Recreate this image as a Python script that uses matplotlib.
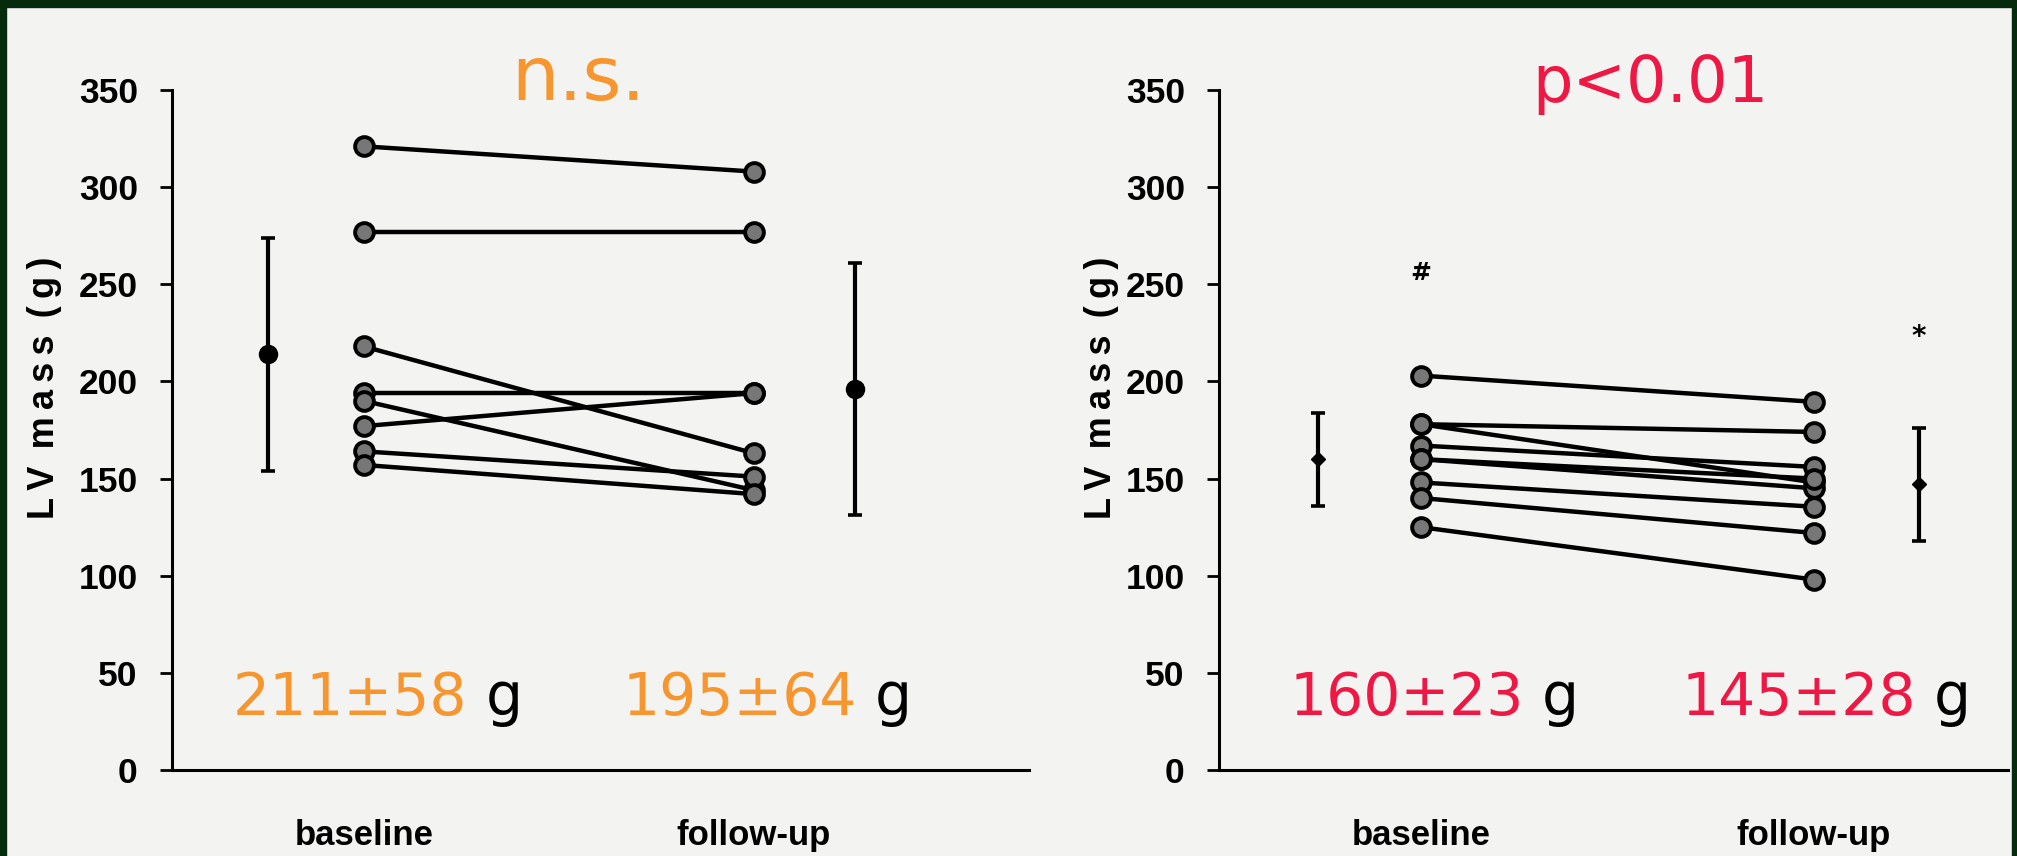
import matplotlib.pyplot as plt
from matplotlib.patches import Rectangle

# data (LV mass, g)
timepoints = ['baseline', 'follow-up']

ns_baseline = [321, 277, 218, 194, 190, 177, 164, 157]
ns_followup = [308, 277, 163, 194, 144, 194, 151, 142]
ns_mean = [214, 196]
ns_sd = [60, 65]
ns_text = ['211±58', '195±64']

p_baseline = [203, 178, 178, 167, 160, 160, 148, 140, 125]
p_followup = [189.5, 174, 148, 156, 145, 150, 135.5, 122, 98]
p_mean = [160, 147]
p_sd = [24, 29]
p_text = ['160±23', '145±28']

ORANGE = '#f7962e'
RED = '#ef1744'
BG = '#f3f3f1'
FRAME = '#052a0c'

W, H = 2017, 856
fig = plt.figure(figsize=(W / 100, H / 100), dpi=100, facecolor=BG)

# dark frame around the scanned image
for x, y, w, h in [(0, H - 7, W, 7), (0, 0, 6, H), (W - 5, 0, 5, H)]:
    fig.patches.append(Rectangle((x / W, y / H), w / W, h / H, transform=fig.transFigure,
                                 color=FRAME, zorder=0))


def panel(rect, xlim, mean_x, base, follow, mean, sd, texts, color, mean_ms, mean_marker):
    ax = fig.add_axes([rect[0] / W, 1 - rect[3] / H, (rect[2] - rect[0]) / W, (rect[3] - rect[1]) / H])
    ax.set_facecolor('none')
    for b, f in zip(base, follow):
        ax.plot([1, 2], [b, f], color='black', lw=3.2, marker='o', ms=13.5,
                mfc='#777777', mec='black', mew=2.8, clip_on=False, zorder=3)
    ax.errorbar(mean_x, mean, yerr=sd, fmt=mean_marker, color='black', ms=mean_ms,
                elinewidth=3.0, capsize=5, capthick=2.6, clip_on=False, zorder=3)
    ax.set_xlim(*xlim)
    ax.set_ylim(0, 350)
    ax.set_yticks(range(0, 351, 50))
    ax.set_xticks([1, 2], timepoints)
    for s in ['top', 'right']:
        ax.spines[s].set_visible(False)
    for s in ['left', 'bottom']:
        ax.spines[s].set_linewidth(2.2)
    ax.tick_params(axis='y', length=8.6, width=2.0, pad=16)
    ax.tick_params(axis='x', length=0, pad=35)
    for lab in ax.get_yticklabels():
        lab.set_fontfamily(['Liberation Sans'])
        lab.set_fontweight('bold')
        lab.set_fontsize(25.5)
    for lab in ax.get_xticklabels():
        lab.set_fontfamily(['Liberation Sans'])
        lab.set_fontweight('bold')
        lab.set_fontsize(25)
    for xt, t in zip([0.665, 1.662], texts):
        num = ax.text(xt, 28.4, t, color=color, fontsize=42, ha='left', va='baseline')
        ax.annotate('g', xy=(1, 0), xycoords=num, xytext=(13, 0), textcoords='offset points',
                    color='black', fontsize=42, ha='left', va='bottom')
    return ax


ax1 = panel((172, 90, 1029, 770), (0.508, 2.705), [0.754, 2.259],
            ns_baseline, ns_followup, ns_mean, ns_sd, ns_text, ORANGE, 13, 'o')
ax1.text(1.549, 345, 'n.s.', color=ORANGE, fontsize=54, ha='center', va='baseline')

ax2 = panel((1219, 90, 2008, 770), (0.486, 2.494), [0.738, 2.267],
            p_baseline, p_followup, p_mean, p_sd, p_text, RED, 7, 'D')
ax2.text(1.583, 344, 'p<0.01', color=RED, fontsize=46, ha='center', va='baseline')
ax2.text(1.0, 256, '#', fontsize=18, fontweight='bold', ha='center', va='center')
ax2.text(2.267, 223, '*', fontsize=20, fontweight='bold', ha='center', va='center')

ylab = 'L\u2009V\u2009 m\u2009a\u2009s\u2009s\u2009 (\u2009g\u2009)'
for xc in [45, 1101]:
    fig.text(xc / W, 1 - 388 / H, ylab, rotation=90, ha='center', va='center',
             fontsize=26, fontweight='bold', family=['Liberation Sans', 'DejaVu Sans'])

fig.savefig('out.png', dpi=100, facecolor=BG)
